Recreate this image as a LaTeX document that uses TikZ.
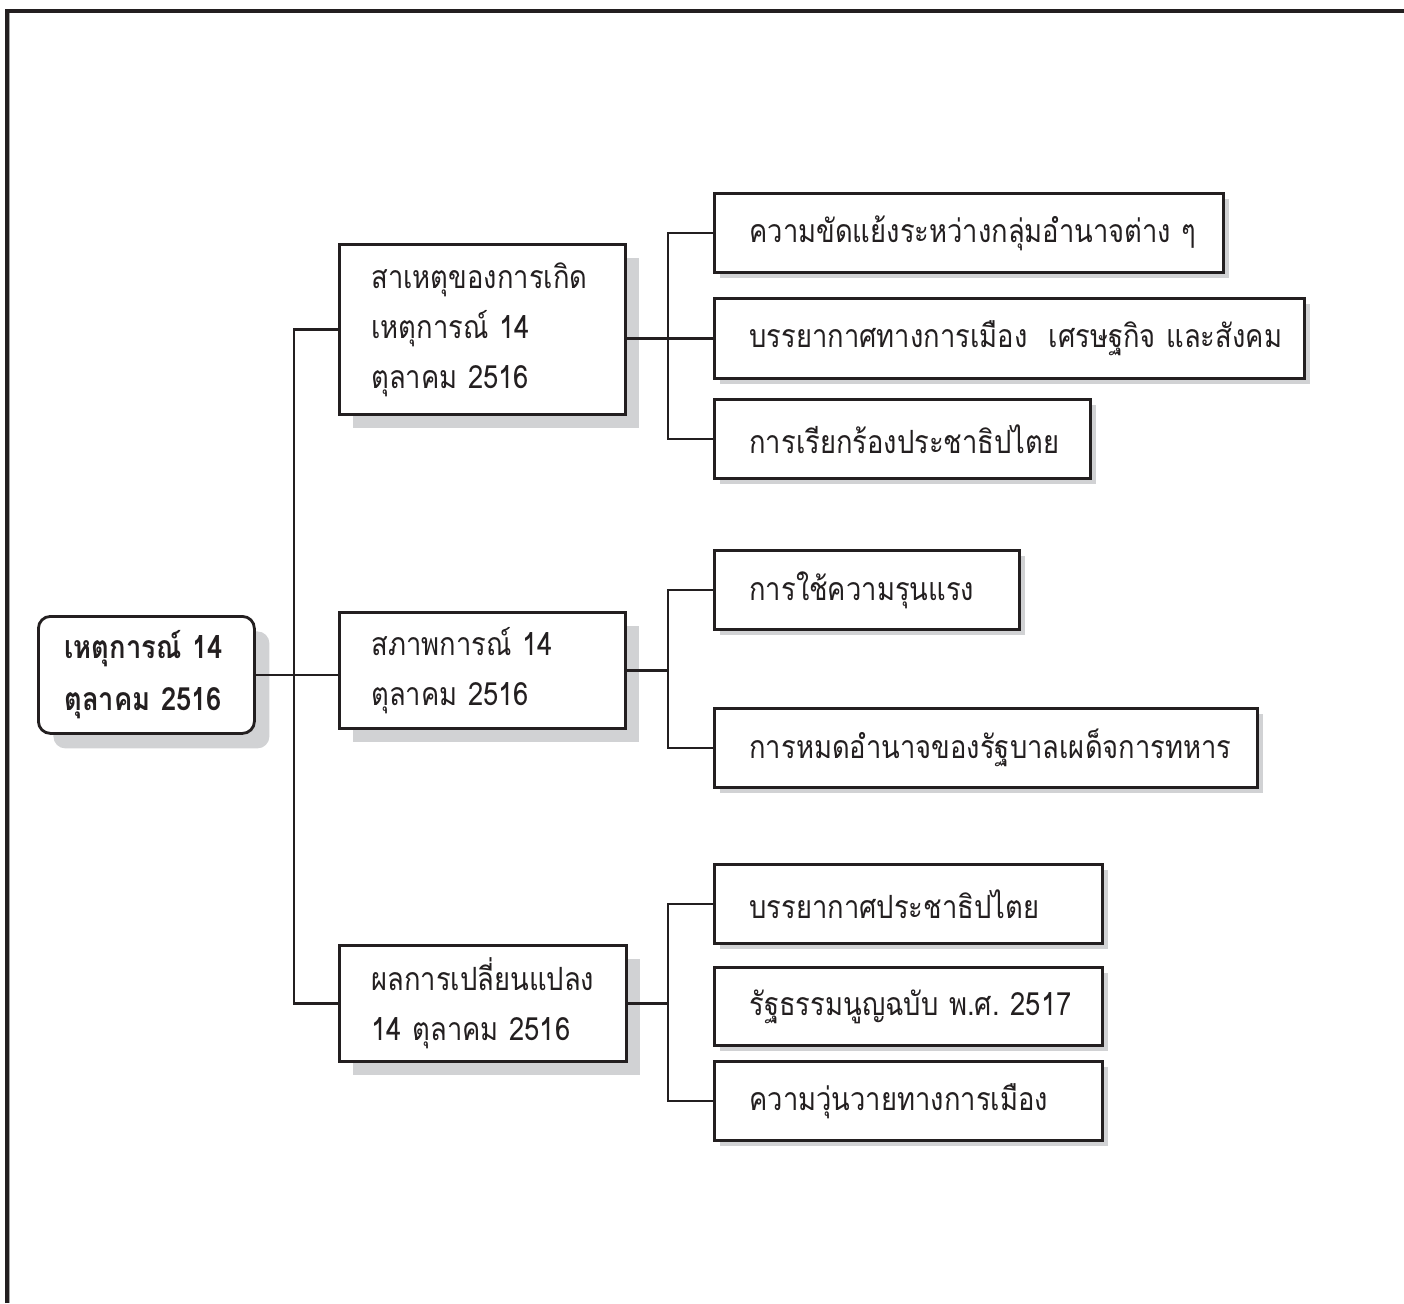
\documentclass[tikz,border=0pt]{standalone}
\usepackage{fontspec}
\newfontfamily\thai[Script=Thai, FakeStretch=0.855]{Loma}
\usetikzlibrary{shadows}
\definecolor{ink}{HTML}{231F20}
\definecolor{shade}{HTML}{D1D2D4}
\tikzset{
  boxbase/.style={draw=ink, line width=2.8pt, fill=white, anchor=north west, align=left,
    inner ysep=0pt, font=\thai\fontsize{32}{50}\selectfont, text=ink},
  rootbox/.style={boxbase, rounded corners=12pt, inner xsep=26pt,
    font=\thai\bfseries\fontsize{32}{52}\selectfont,
    drop shadow={shadow xshift=15pt, shadow yshift=-15pt, fill=shade, opacity=1}},
  midbox/.style={boxbase, inner xsep=32pt,
    drop shadow={shadow xshift=14pt, shadow yshift=-14pt, fill=shade, opacity=1}},
  leafbox/.style={boxbase, inner xsep=35pt,
    drop shadow={shadow xshift=6pt, shadow yshift=-6pt, fill=shade, opacity=1}},
  link/.style={draw=ink, line width=2.6pt},
}
\begin{document}
\begin{tikzpicture}[x=1pt,y=-1pt]
\useasboundingbox (0,0) rectangle (1404,1303);
% frame
\draw[black!35, line width=0.8pt] (9.6,13) -- (9.6,1303);
\draw[ink, line width=4pt] (7,1303) -- (7,11) -- (1404,11);

% root
\node[rootbox, minimum width=216, minimum height=117, text width=164pt] (root) at (37,615)
  {เหตุการณ์~14\\ตุลาคม~2516};

% level 1
\node[midbox, minimum width=286, minimum height=170, text width=222pt] (c1) at (338,243)
  {สาเหตุของการเกิด\\เหตุการณ์~14\\ตุลาคม~2516};
\node[midbox, minimum width=286, minimum height=116, text width=222pt] (c2) at (338,611)
  {สภาพการณ์~14\\ตุลาคม~2516};
\node[midbox, minimum width=287, minimum height=116, text width=223pt] (c3) at (338,944)
  {ผลการเปลี่ยนแปลง\\14~ตุลาคม~2516};

% level 2
\node[leafbox, minimum width=509, minimum height=79, text width=439pt] (a1) at (713,192)
  {ความขัดแย้งระหว่างกลุ่มอำนาจต่าง~ๆ};
\node[leafbox, minimum width=590, minimum height=80, text width=520pt] (a2) at (713,297)
  {บรรยากาศทางการเมือง~~เศรษฐกิจ~และสังคม};
\node[leafbox, minimum width=376, minimum height=79, text width=306pt] (a3) at (713,398)
  {การเรียกร้องประชาธิปไตย};
\node[leafbox, minimum width=305, minimum height=79, text width=235pt] (b1) at (713,549)
  {การใช้ความรุนแรง};
\node[leafbox, minimum width=543, minimum height=79, text width=473pt] (b2) at (713,707)
  {การหมดอำนาจของรัฐบาลเผด็จการทหาร};
\node[leafbox, minimum width=388, minimum height=79, text width=318pt] (d1) at (713,863)
  {บรรยากาศประชาธิปไตย};
\node[leafbox, minimum width=388, minimum height=78, text width=318pt] (d2) at (713,966)
  {รัฐธรรมนูญฉบับ~พ.ศ.~2517};
\node[leafbox, minimum width=388, minimum height=79, text width=318pt] (d3) at (713,1060)
  {ความวุ่นวายทางการเมือง};

% trunk
\coordinate (t1) at (294,0);
\draw[link] (root.east) -- (root.east -| c2.west);
\draw[link] (c1.west) -- (c1.west -| t1) |- (c3.west);

% group 1
\coordinate (j) at (668,0);
\draw[link] (c1.east |- a2.west) -- (a2.west);
\draw[link] (a1.west) -- (a1.west -| j) |- (a3.west);
% group 2
\draw[link] (c2.east) -- (c2.east -| j);
\draw[link] (b1.west) -- (b1.west -| j) |- (b2.west);
% group 3
\draw[link] (c3.east) -- (c3.east -| j);
\draw[link] (d1.west) -- (d1.west -| j) |- (d3.west);
\end{tikzpicture}
\end{document}
